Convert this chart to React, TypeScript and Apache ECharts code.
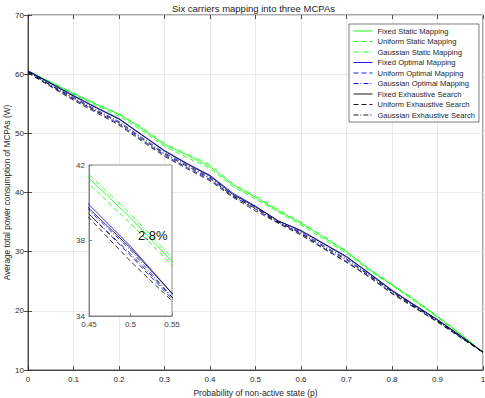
import React, { useEffect, useRef } from "react";
import * as echarts from "echarts";

const pValues = [0, 0.05, 0.1, 0.15, 0.2, 0.25, 0.3, 0.35, 0.4, 0.45, 0.5, 0.55, 0.6, 0.65, 0.7, 0.75, 0.8, 0.85, 0.9, 0.95, 1];

const fixedStatic = [60.5, 58.6, 56.7, 54.9, 53.2, 50.8, 48.1, 46.3, 44.4, 41.3, 39.2, 36.9, 34.8, 32.4, 30.0, 27.0, 24.4, 21.8, 19.0, 16.1, 13.0];
const uniformStatic = [60.4, 58.5, 56.6, 54.7, 52.9, 50.5, 47.8, 45.9, 44.1, 41.0, 38.9, 36.7, 34.5, 32.1, 29.7, 26.8, 24.3, 21.6, 18.9, 16.0, 13.0];
const gaussianStatic = [60.5, 58.7, 56.8, 55.0, 53.3, 51.0, 48.3, 46.5, 44.7, 41.5, 39.4, 37.1, 35.0, 32.6, 30.1, 27.1, 24.5, 21.9, 19.1, 16.1, 13.0];
const fixedOptimal = [60.6, 58.5, 56.4, 54.4, 52.5, 49.8, 47.1, 44.9, 42.9, 39.9, 37.7, 35.2, 33.6, 31.4, 29.2, 26.4, 23.5, 21.0, 18.5, 15.8, 13.0];
const uniformOptimal = [60.3, 58.0, 55.8, 53.7, 51.6, 48.9, 46.3, 44.2, 42.2, 39.4, 37.2, 34.9, 33.0, 30.6, 28.3, 25.8, 23.0, 20.6, 18.2, 15.6, 13.0];
const gaussianOptimal = [60.4, 58.2, 56.1, 54.0, 52.0, 49.3, 46.7, 44.6, 42.6, 39.6, 37.5, 35.0, 33.3, 31.0, 28.8, 26.1, 23.3, 20.8, 18.4, 15.7, 13.0];
const fixedExhaustive = [60.5, 58.4, 56.3, 54.3, 52.4, 49.7, 47.0, 44.8, 42.8, 39.7, 37.6, 35.2, 33.5, 31.3, 29.1, 26.3, 23.4, 20.9, 18.5, 15.8, 13.0];
const uniformExhaustive = [60.2, 57.9, 55.6, 53.5, 51.4, 48.7, 46.1, 44.0, 42.0, 39.2, 36.9, 34.8, 32.8, 30.5, 28.2, 25.7, 22.9, 20.5, 18.1, 15.5, 13.0];
const gaussianExhaustive = [60.4, 58.1, 55.9, 53.8, 51.8, 49.1, 46.5, 44.4, 42.4, 39.4, 37.3, 35.0, 33.1, 30.8, 28.6, 26.0, 23.2, 20.7, 18.3, 15.6, 13.0];

const seriesNames = [
  "Fixed Static Mapping",
  "Uniform Static Mapping",
  "Gaussian Static Mapping",
  "Fixed Optimal Mapping",
  "Uniform Optimal Mapping",
  "Gaussian Optimal Mapping",
  "Fixed Exhaustive Search",
  "Uniform Exhaustive Search",
  "Gaussian Exhaustive Search",
];
const seriesValues = [
  fixedStatic, uniformStatic, gaussianStatic,
  fixedOptimal, uniformOptimal, gaussianOptimal,
  fixedExhaustive, uniformExhaustive, gaussianExhaustive,
];

const arrowLow = 37.5;
const arrowHigh = 39.2;
const arrowP = 0.5;
const gapLabel = "2.8%";

const colors = ["#00ff00", "#00ff00", "#00ff00", "#0000ff", "#0000ff", "#0000ff", "#000000", "#000000", "#000000"];
const dashes: any[] = ["solid", [5, 3], [5, 2, 1, 2]];

const FONT = "Liberation Sans, Arial, Helvetica, sans-serif";
const AX = "#262626";

export default function App() {
  const ref = useRef<HTMLDivElement>(null);
  useEffect(() => {
    const chart = echarts.init(ref.current!, null, { renderer: "svg" });
    const series: any[] = [];
    seriesNames.forEach((name, i) => {
      const data = pValues.map((p, j) => [p, seriesValues[i][j]]);
      const ls = { color: colors[i], width: 0.8, type: dashes[i % 3] };
      series.push({
        name, type: "line", data, xAxisIndex: 0, yAxisIndex: 0,
        symbol: "none", showSymbol: false, lineStyle: ls, itemStyle: { color: colors[i] }, z: 2,
      });
    });
    seriesNames.forEach((name, i) => {
      const data = pValues.map((p, j) => [p, seriesValues[i][j]]);
      const ls = { color: colors[i], width: 0.8, type: dashes[i % 3] };
      const s: any = {
        name, type: "line", data, xAxisIndex: 1, yAxisIndex: 1, clip: true,
        symbol: "none", showSymbol: false, lineStyle: ls, itemStyle: { color: colors[i] }, z: 12,
      };
      if (i === 0) {
        s.markLine = {
          silent: true,
          symbol: ["arrow", "arrow"],
          symbolSize: [4, 6],
          label: { show: false },
          lineStyle: { color: "#404040", width: 0.8, type: "solid" },
          data: [[{ coord: [arrowP, arrowLow] }, { coord: [arrowP, arrowHigh] }]],
        };
      }
      series.push(s);
    });

    const option: any = {
      animation: false,
      backgroundColor: "#ffffff",
      textStyle: { fontFamily: FONT },
      title: {
        text: "Six carriers mapping into three MCPAs",
        left: 172, top: 3, padding: 0,
        textStyle: { fontSize: 9.5, fontWeight: "normal", color: AX, fontFamily: FONT },
      },
      legend: {
        data: seriesNames,
        orient: "vertical",
        left: 349, top: 24,
        itemWidth: 19, itemHeight: 8, itemGap: 2.5,
        padding: [3, 4, 3, 4],
        backgroundColor: "#ffffff",
        borderColor: AX, borderWidth: 0.6,
        itemStyle: { opacity: 0 },
        lineStyle: { width: 0.9 },
        textStyle: { fontSize: 7.6, color: AX, fontFamily: FONT },
        z: 20,
      },
      grid: [
        { left: 28, top: 15, width: 455, height: 355, show: true, borderColor: AX, borderWidth: 0.8, backgroundColor: "#ffffff", containLabel: false, outerBoundsMode: "none" },
        { left: 89, top: 165, width: 83, height: 151, show: true, borderColor: "#707070", borderWidth: 0.8, backgroundColor: "#ffffff", z: 10, containLabel: false, outerBoundsMode: "none" },
      ],
      xAxis: [
        {
          gridIndex: 0, type: "value", min: 0, max: 1, interval: 0.1, position: "bottom",
          axisLine: { show: true, lineStyle: { color: AX, width: 0.8 } },
          axisTick: { show: true, inside: true, length: 4, lineStyle: { color: AX, width: 0.8 } },
          splitLine: { show: true, lineStyle: { color: "#e6e6e6", width: 0.8 } },
          axisLabel: { fontSize: 8, color: AX, margin: 5, fontFamily: FONT },
          name: "Probability of non-active state (p)", nameLocation: "middle", nameGap: 18, nameMoveOverlap: false,
          nameTextStyle: { fontSize: 8.5, color: AX, fontFamily: FONT },
        },
        {
          gridIndex: 1, type: "value", min: 0.45, max: 0.55, interval: 0.05, position: "bottom", z: 12,
          axisLine: { show: true, lineStyle: { color: "#707070", width: 0.8 } },
          axisTick: { show: true, inside: true, length: 3, lineStyle: { color: "#707070", width: 0.8 } },
          splitLine: { show: false },
          axisLabel: { fontSize: 8, color: "#404040", margin: 4, fontFamily: FONT, formatter: (v: number) => String(+v.toFixed(2)) },
        },
        {
          gridIndex: 0, type: "value", min: 0, max: 1, interval: 0.1, position: "top",
          axisLine: { show: false },
          axisTick: { show: true, inside: true, length: 4, lineStyle: { color: AX, width: 0.8 } },
          splitLine: { show: false }, axisLabel: { show: false },
        },
      ],
      yAxis: [
        {
          gridIndex: 0, type: "value", min: 10, max: 70, interval: 10,
          axisLine: { show: true, lineStyle: { color: AX, width: 0.8 } },
          axisTick: { show: true, inside: true, length: 4, lineStyle: { color: AX, width: 0.8 } },
          splitLine: { show: true, lineStyle: { color: "#e6e6e6", width: 0.8 } },
          axisLabel: { fontSize: 8, color: AX, margin: 4, fontFamily: FONT },
          name: "Average total power consumption of MCPAs (W)", nameLocation: "middle", nameGap: 17, nameMoveOverlap: false,
          nameTextStyle: { fontSize: 8.2, color: AX, fontFamily: FONT },
        },
        {
          gridIndex: 1, type: "value", min: 34, max: 42, interval: 4, z: 12,
          axisLine: { show: true, lineStyle: { color: "#707070", width: 0.8 } },
          axisTick: { show: true, inside: true, length: 3, lineStyle: { color: "#707070", width: 0.8 } },
          splitLine: { show: false },
          axisLabel: { fontSize: 8, color: "#404040", margin: 4, fontFamily: FONT },
        },
        {
          gridIndex: 0, type: "value", min: 10, max: 70, interval: 10, position: "right",
          axisLine: { show: false },
          axisTick: { show: true, inside: true, length: 4, lineStyle: { color: AX, width: 0.8 } },
          splitLine: { show: false }, axisLabel: { show: false },
        },
      ],
      graphic: [
        {
          type: "text", left: 138, top: 229, z: 30,
          style: { text: gapLabel, fontSize: 13, fill: "#111111", fontFamily: FONT },
        },
      ],
      series,
    };
    chart.setOption(option);
    return () => chart.dispose();
  }, []);
  return <div ref={ref} style={{ position: "absolute", left: 0, top: 0, width: 485, height: 398 }} />;
}
